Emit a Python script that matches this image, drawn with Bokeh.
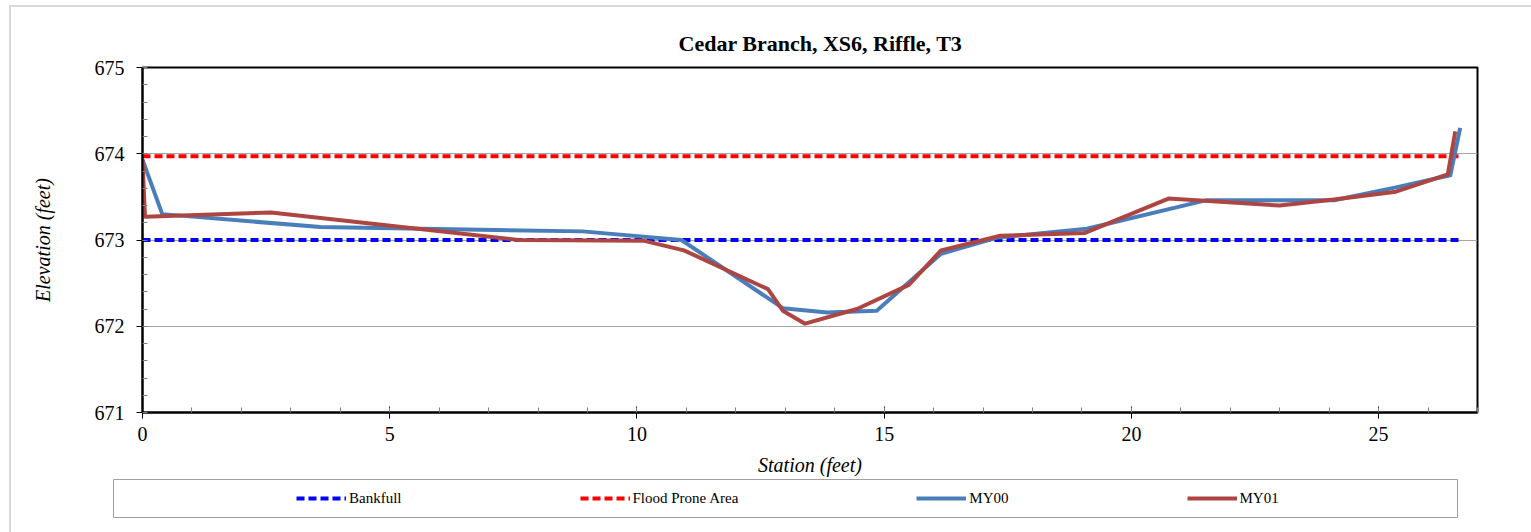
from bokeh.plotting import figure
from bokeh.layouts import column
from bokeh.models import Range1d, SingleIntervalTicker, Legend, LegendItem
from bokeh.embed import file_html
from bokeh.resources import INLINE

# Cross-section survey, Cedar Branch XS6 (riffle)
my00_station = [0, 0.4, 3.6, 8.9, 10.9, 12.95, 13.85, 14.85, 16.15, 17.3,
                19.1, 21.5, 24.1, 25.35, 26.45, 26.65]
my00_elev = [673.93, 673.30, 673.15, 673.10, 673.00, 672.21, 672.16, 672.18,
             672.84, 673.03, 673.13, 673.46, 673.46, 673.61, 673.75, 674.30]

my01_station = [0, 0.05, 2.6, 7.6, 10.15, 10.95, 12.65, 12.95, 13.4, 14.45,
                15.5, 16.15, 17.35, 19.05, 20.75, 23.0, 24.1, 25.35, 26.4, 26.55]
my01_elev = [673.93, 673.27, 673.32, 673.00, 672.99, 672.88, 672.43, 672.18,
             672.03, 672.20, 672.48, 672.88, 673.05, 673.08, 673.48, 673.40,
             673.47, 673.56, 673.76, 674.26]

bankfull_station = [0, 26.65]
bankfull_elev = [673.0, 673.0]
flood_station = [0, 26.65]
flood_elev = [673.97, 673.97]

series_labels = ["Bankfull", "Flood Prone Area", "MY00", "MY01"]
series_data = [(bankfull_station, bankfull_elev), (flood_station, flood_elev),
               (my00_station, my00_elev), (my01_station, my01_elev)]

FONT = "Liberation Serif"

STYLES = [
    dict(line_color="#0000FF", line_width=4, line_dash="8 4"),
    dict(line_color="#FF0000", line_width=4, line_dash="8 4"),
    dict(line_color="#4A7EBB", line_width=4, line_join="round"),
    dict(line_color="#AD4542", line_width=4, line_join="round"),
]

# ---- main cross-section plot ----
p = figure(width=1520, height=472, output_backend="svg", toolbar_location=None,
           x_range=Range1d(0, 27), y_range=Range1d(671, 675),
           min_border_left=131, min_border_right=54, min_border_top=60,
           min_border_bottom=67, frame_align=False,
           x_axis_label="Station (feet)", y_axis_label="Elevation (feet)")

p.title.text = "Cedar Branch, XS6, Riffle, T3"
p.title.text_font = FONT
p.title.text_font_size = "22px"
p.title.text_font_style = "bold"
p.title.text_color = "black"
p.title.align = "left"
p.title.offset = 536
p.title.standoff = 23

p.outline_line_color = "black"
p.outline_line_width = 2
p.outline_line_alpha = 1

p.xgrid.visible = False
p.ygrid.grid_line_color = "#a6a6a6"
p.ygrid.grid_line_width = 1

p.xaxis.ticker = SingleIntervalTicker(interval=5, num_minor_ticks=5)
p.yaxis.ticker = SingleIntervalTicker(interval=1, num_minor_ticks=5)

for ax in (p.xaxis, p.yaxis):
    ax.axis_line_color = "black"
    ax.axis_line_width = 2
    ax.major_tick_line_color = "black"
    ax.major_tick_line_width = 1
    ax.minor_tick_line_color = "#808080"
    ax.minor_tick_line_width = 1
    ax.minor_tick_in = 5
    ax.minor_tick_out = 0
    ax.major_label_text_font = FONT
    ax.major_label_text_font_size = "20px"
    ax.major_label_text_color = "black"
    ax.axis_label_text_font = FONT
    ax.axis_label_text_font_size = "20px"
    ax.axis_label_text_font_style = "italic"
    ax.axis_label_text_color = "black"

p.xaxis.major_tick_in = 6
p.xaxis.major_tick_out = 6
p.xaxis.major_label_standoff = 8
p.xaxis.axis_label_standoff = 10
p.yaxis.major_tick_in = 0
p.yaxis.major_tick_out = 6
p.yaxis.major_label_standoff = 12
p.yaxis.axis_label_standoff = 38

for (xs, ys), st in zip(series_data, STYLES):
    p.line(xs, ys, **st)

# ---- legend strip below the plot, framed by its own outline ----
# The strip's ranges sit far from the data, so its lines only feed the legend.
leg = figure(width=1520, height=53, output_backend="svg", toolbar_location=None,
             x_range=Range1d(100, 101), y_range=Range1d(0, 1),
             min_border_left=102, min_border_right=74, min_border_top=0,
             min_border_bottom=15, frame_align=False,
             x_axis_type=None, y_axis_type=None)
leg.xgrid.visible = False
leg.ygrid.visible = False
leg.outline_line_color = "#a0a0a0"
leg.outline_line_width = 1

leg_renderers = [leg.line(xs, ys, **st) for (xs, ys), st in zip(series_data, STYLES)]
legend = Legend(items=[LegendItem(label=lab, renderers=[r])
                       for lab, r in zip(series_labels, leg_renderers)],
                orientation="horizontal", location=(183, 9),
                spacing=178, glyph_width=50, glyph_height=20, label_height=20,
                label_standoff=3, padding=0, margin=0,
                border_line_alpha=0, background_fill_alpha=0,
                label_text_font=FONT, label_text_font_size="15px",
                label_text_color="black")
leg.add_layout(legend, "center")

layout = column(p, leg, spacing=0,
                styles={"margin": "5px 0 0 9px",
                        "border-top": "2px solid #d9d9d9",
                        "border-left": "2px solid #d9d9d9"})

open("out.html", "w").write(file_html(layout, INLINE))
